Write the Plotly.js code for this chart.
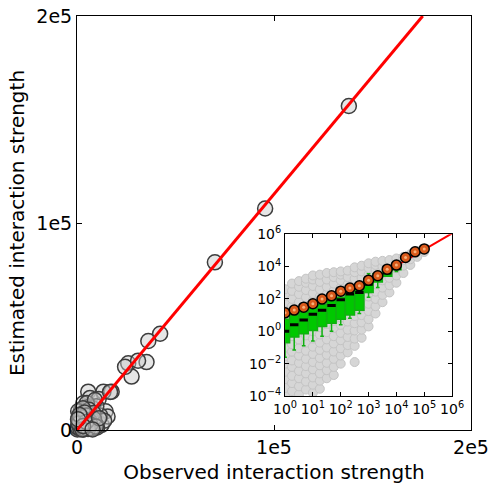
<!DOCTYPE html>
<html>
<head>
<meta charset="utf-8">
<script src="https://cdn.plot.ly/plotly-3.0.1.min.js"></script>
<style>html,body{margin:0;padding:0;background:#fff;}#chart{width:491px;height:492px;}</style>
</head>
<body>
<div id="chart"></div>
<script>
// ---- Main panel: observed vs estimated interaction strength ----
const mainObserved = [138000, 95500, 70000, 42200, 36200, 35300, 26000, 27700, 24400, 31000,
  17600, 13400, 5700, 6600, 3200, 11000, 9000, 14500, 8000, 4500, 2500, 1200, 600, 300, 7000,
  10500, 12500, 15500, 3800, 5200, 2000, 900, 6200, 8800, 11800, 4100, 1500, 700, 200, 2900,
  9800, 13800, 5000, 7600, 3300, 600, 16800, 9100,
  1800, 3500, 5400, 7200, 9400, 2600, 4300, 6100, 8300, 1000, 3000, 5800, 10200, 2200, 4800,
  400, 1100, 1700, 2300, 2800, 3600, 4400, 5100, 6500, 7400, 8600, 1400, 2100, 3900, 5600,
  6800, 800, 2700, 4700, 9600, 11200, 1300, 3100, 500, 7900];
const mainEstimated = [156500, 107000, 81000, 46500, 43000, 32800, 32200, 25800, 30500, 33500,
  18500, 18500, 18500, 15500, 12900, 15000, 6000, 9000, 10500, 8500, 5500, 3000, 1500, 800, 3500,
  4000, 2500, 6500, 2500, 11000, 9500, 6500, 1500, 2000, 7000, 5000, 1000, 4500, 300, 7500,
  11500, 4500, 13000, 800, 300, 9000, 18400, 14500,
  2000, 4200, 6800, 5200, 3000, 7800, 1800, 9800, 8200, 6000, 10500, 3600, 1200, 3200, 7000,
  1200, 2400, 500, 1500, 4800, 600, 2800, 1300, 4100, 900, 5400, 3700, 6100, 8400, 500,
  2600, 3100, 200, 3900, 1700, 5700, 7300, 1900, 5200, 300];
const fitX = [0, 175500];
const fitY = [0, 200000];
const mainTickVals = [0, 100000, 200000];
const mainTickText = ['0', '1e5', '2e5'];

// ---- Inset (log10 units) ----
const greyColX = [0.0, 0.25, 0.5, 0.75, 1.0, 1.25, 1.5, 1.75, 2.0, 2.25, 2.5, 2.75, 3.0, 3.25, 3.5, 3.75, 4.0, 4.25, 4.5, 4.75, 5.0];
const greyColY = [
  [-3.95,-3.5,-2.95,-2.5,-2.0,-1.55,-1.0,-0.55,-0.1,0.4,0.85,1.3,1.8,2.2,2.6],
  [-3.7,-3.2,-2.75,-2.2,-1.8,-1.25,-0.8,-0.3,0.15,0.6,1.1,1.55,2.0,2.5,2.95],
  [-3.9,-3.4,-2.9,-2.45,-1.95,-1.5,-1.05,-0.5,-0.05,0.45,0.9,1.35,1.8,2.3,2.75,3.1],
  [-3.6,-3.1,-2.6,-2.15,-1.7,-1.2,-0.7,-0.25,0.2,0.7,1.15,1.6,2.1,2.55,3.0,3.25],
  [-3.8,-3.3,-2.85,-2.35,-1.9,-1.4,-0.95,-0.45,0.0,0.5,0.95,1.45,1.9,2.35,2.8,3.2,3.45],
  [-3.55,-3.05,-2.6,-2.1,-1.65,-1.15,-0.7,-0.2,0.25,0.75,1.2,1.65,2.15,2.6,3.05,3.5],
  [-2.9,-2.4,-1.95,-1.45,-1.0,-0.5,-0.05,0.45,0.9,1.4,1.85,2.3,2.75,3.2,3.6],
  [-2.7,-2.2,-1.7,-1.25,-0.75,-0.3,0.2,0.65,1.15,1.6,2.05,2.5,2.95,3.35,3.65],
  [-2.0,-1.5,-1.05,-0.55,-0.1,0.4,0.85,1.3,1.8,2.25,2.7,3.15,3.5,3.7],
  [-1.3,-0.85,-0.35,0.1,0.6,1.05,1.55,2.0,2.45,2.9,3.35,3.75],
  [-1.9,-0.9,-0.45,0.05,0.5,0.95,1.45,1.9,2.35,2.8,3.25,3.65,3.95],
  [-0.4,0.1,0.55,1.0,1.5,1.95,2.4,2.85,3.3,3.7,4.05],
  [0.3,0.75,1.25,1.7,2.15,2.6,3.05,3.5,3.9,4.2],
  [1.1,1.55,2.0,2.45,2.9,3.35,3.8,4.1,4.3],
  [1.8,2.25,2.7,3.15,3.6,4.0,4.35],
  [2.4,2.85,3.3,3.75,4.1,4.4],
  [3.0,3.45,3.9,4.25,4.5],
  [3.6,4.05,4.4,4.6],
  [4.1,4.45,4.75],
  [4.6,4.95],
  [4.9,5.1]
];
const boxBinX = [0, 0.33, 0.67, 1.0, 1.33, 1.67, 2.0, 2.33, 2.67, 3.0, 3.33, 3.67, 4.0];
const boxQ1 = [-0.7, -0.35, -0.15, 0.05, 0.3, 0.5, 0.75, 1.0, 1.3, 2.4, 3.05, 3.4, 3.8];
const boxMedian = [0.0, 0.4, 0.7, 1.05, 1.3, 1.6, 1.95, 2.3, 2.4, 2.9, 3.3, 3.6, 3.9];
const boxQ3 = [0.75, 1.0, 1.2, 1.45, 1.65, 1.9, 2.1, 2.4, 2.75, 3.25, 3.55, 3.8, 4.0];
const boxLow = [-1.6, -1.15, -0.9, -0.6, -0.3, 0.0, 0.4, 0.8, 1.1, 2.1, 2.7, 3.5, 3.7];
const boxHigh = [1.1, 1.3, 1.5, 1.75, 2.0, 2.2, 2.5, 2.7, 3.05, 3.55, 3.7, 3.95, 4.2];
const meanX = [0, 0.33, 0.67, 1.0, 1.33, 1.67, 2.0, 2.33, 2.67, 3.0, 3.33, 3.67, 4.0, 4.33, 4.67, 5.0];
const meanY = [1.14, 1.31, 1.49, 1.70, 1.99, 2.19, 2.48, 2.67, 2.81, 3.16, 3.43, 3.84, 4.09, 4.56, 4.91, 5.09];
const insetLineX = [3.2, 6.0];
const insetLineY = [3.25, 6.05];
const insetXTicks = [0, 1, 2, 3, 4, 5, 6];
const insetYTicks = [-4, -2, 0, 2, 4, 6];

const gx = [], gy = [];
greyColX.forEach((x, i) => greyColY[i].forEach(y => { gx.push(x); gy.push(y); }));
const powLabel = v => '10<sup>' + (v < 0 ? '\u2212' + (-v) : v) + '</sup>';

const traces = [
  {x: mainObserved, y: mainEstimated, type: 'scatter', mode: 'markers', xaxis: 'x', yaxis: 'y',
   cliponaxis: false,
   marker: {size: 15, color: 'rgba(200,200,200,0.45)', line: {color: '#3c3c3c', width: 1.5}}, hoverinfo: 'skip'},
  {x: fitX, y: fitY, type: 'scatter', mode: 'lines', xaxis: 'x', yaxis: 'y', cliponaxis: false,
   line: {color: '#ff0000', width: 3}},
  {x: gx, y: gy, type: 'scatter', mode: 'markers', xaxis: 'x2', yaxis: 'y2',
   marker: {size: 9, color: '#d6d6d6', line: {color: '#c4c4c4', width: 1}}},
  {x: insetLineX, y: insetLineY, type: 'scatter', mode: 'lines', xaxis: 'x2', yaxis: 'y2',
   line: {color: '#ff0000', width: 2}},
  {type: 'box', orientation: 'v', x: boxBinX, q1: boxQ1, median: boxMedian, q3: boxQ3,
   lowerfence: boxLow, upperfence: boxHigh,
   xaxis: 'x3', yaxis: 'y3', fillcolor: '#00c800', line: {color: '#10b010', width: 1.5},
   whiskerwidth: 0.4, boxpoints: false},
  {x: boxBinX, y: boxMedian, type: 'scatter', mode: 'markers', xaxis: 'x3', yaxis: 'y3',
   marker: {symbol: 'line-ew', size: 6, line: {color: '#000', width: 3}}},
  {x: meanX, y: meanY, type: 'scatter', mode: 'markers', xaxis: 'x3', yaxis: 'y3',
   marker: {size: 10, color: '#d95a1c', line: {color: '#000', width: 1.5}}},
  {x: meanX, y: meanY, type: 'scatter', mode: 'markers', xaxis: 'x3', yaxis: 'y3',
   marker: {size: 3, color: '#f6b07a'}}
];

const axFont = {family: 'DejaVu Sans, sans-serif', size: 19, color: '#000'};
const insetFont = {family: 'DejaVu Sans, sans-serif', size: 14, color: '#000'};
const common = {showgrid: false, zeroline: false, showline: true, linecolor: '#000', linewidth: 1,
  mirror: 'ticks', ticks: 'inside', ticklen: 5, tickcolor: '#000'};

const layout = {
  width: 491, height: 492,
  margin: {l: 77, r: 20, t: 16, b: 62},
  paper_bgcolor: '#fff', plot_bgcolor: '#fff',
  showlegend: false,
  boxgap: 0, boxgroupgap: 0,
  font: {family: 'DejaVu Sans, sans-serif', color: '#000'},
  xaxis: Object.assign({}, common, {range: [0, 200000], tickvals: mainTickVals, ticktext: mainTickText,
    tickfont: axFont, domain: [0, 1],
    title: {text: 'Observed interaction strength', font: {family: 'DejaVu Sans, sans-serif', size: 20, color: '#000'}, standoff: 8}}),
  yaxis: Object.assign({}, common, {range: [0, 200000], tickvals: mainTickVals, ticktext: mainTickText,
    tickfont: axFont, domain: [0, 1],
    title: {text: 'Estimated interaction strength', font: {family: 'DejaVu Sans, sans-serif', size: 20, color: '#000'}, standoff: 6}}),
  xaxis2: Object.assign({}, common, {anchor: 'y2', domain: [0.528, 0.952], range: [0, 6],
    tickvals: insetXTicks, ticktext: insetXTicks.map(powLabel), ticklen: 4, tickangle: 0,
    tickfont: insetFont}),
  yaxis2: Object.assign({}, common, {anchor: 'x2', domain: [0.082, 0.473], range: [-4, 6],
    tickvals: insetYTicks, ticktext: insetYTicks.map(powLabel), ticklen: 4,
    tickfont: insetFont}),
  xaxis3: {overlaying: 'x2', anchor: 'y3', range: [0, 6], visible: false, showgrid: false, zeroline: false},
  yaxis3: {overlaying: 'y2', anchor: 'x3', range: [-4, 6], visible: false, showgrid: false, zeroline: false}
};

Plotly.newPlot('chart', traces, layout, {staticPlot: true, displayModeBar: false});
</script>
</body>
</html>
